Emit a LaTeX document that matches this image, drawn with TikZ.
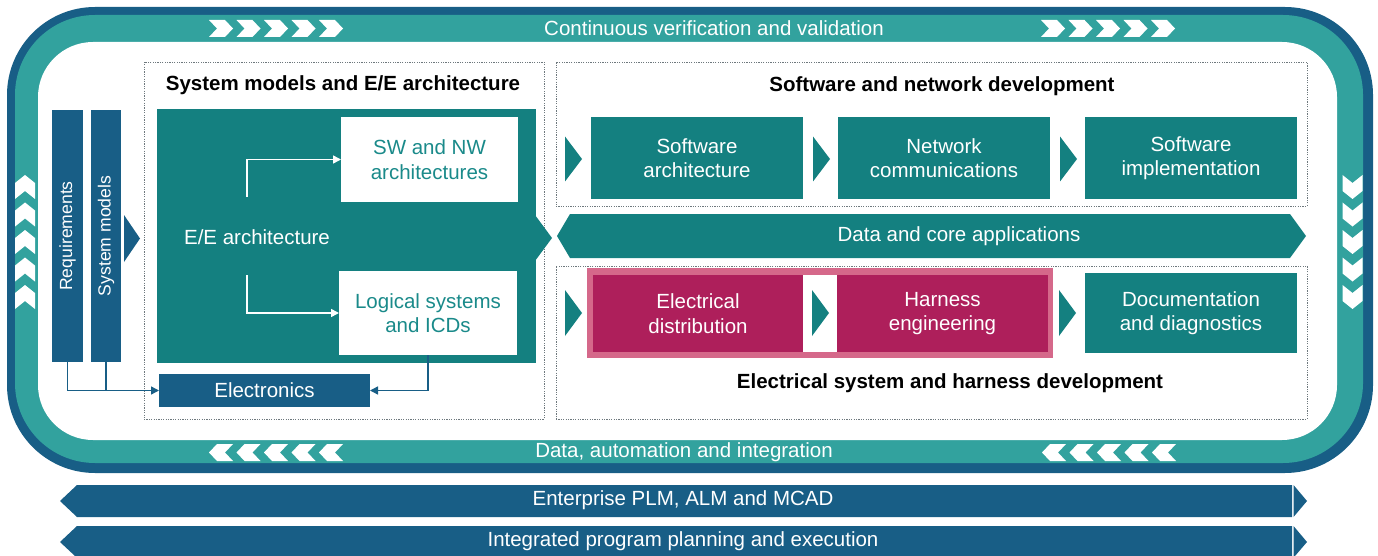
\documentclass[tikz,border=0pt]{standalone}
\usepackage{graphicx}
\usepackage{fontspec}
\setmainfont{Liberation Sans}
\usetikzlibrary{arrows.meta}
\definecolor{dkblue}{RGB}{24,94,134}
\definecolor{tealbox}{RGB}{20,128,128}
\definecolor{tealframe}{RGB}{50,162,158}
\definecolor{tealtext}{RGB}{26,138,138}
\definecolor{magbox}{RGB}{174,31,91}
\definecolor{pinkframe}{RGB}{213,104,138}
\definecolor{dotgray}{RGB}{110,120,125}
\begin{document}
\begin{tikzpicture}[x=1pt,y=-1pt,
 every node/.style={inner sep=0pt, outer sep=0pt},
 fnt/.style={font=\fontsize{20.5}{24.5}\selectfont},
 tbox/.style={fnt, fill=tealbox, text=white, align=center},
 wbox/.style={fnt, fill=white, text=tealtext, align=center},
 mbox/.style={fnt, fill=magbox, text=white, align=center},
 bbox/.style={fnt, fill=dkblue, text=white, align=center},
 vbar/.style={fill=dkblue, text=white, font=\fontsize{17.6}{20}\selectfont},
 ttl/.style={font=\fontsize{20.5}{24.5}\selectfont\bfseries, text=black},
 grp/.style={draw=dotgray, line width=0.9pt, dash pattern=on 1.2pt off 1.2pt},
 wline/.style={draw=white, line width=1.6pt, -{Triangle[length=8pt,width=8pt]}},
 bline/.style={draw=dkblue, line width=1.4pt, -{Triangle[length=8pt,width=8pt]}},
 wtxt/.style={fnt, text=white},
]
\useasboundingbox (0,0) rectangle (1378,556);
% outer frame
\fill[dkblue, rounded corners=88] (7,7) rectangle (1373,473);
\fill[tealframe, rounded corners=80] (15,15) rectangle (1363,463);
\fill[white, rounded corners=55] (38,42) rectangle (1337,440);
% chevrons in the frame
\foreach \i in {0,...,4} {
  \fill[white] ({209+27.5*\i},20) -- ++(16,0) -- ++(8,8.5) -- ++(-8,8.5) -- ++(-16,0) -- ++(8,-8.5) -- cycle;
  \fill[white] ({1041+27.5*\i},20) -- ++(16,0) -- ++(8,8.5) -- ++(-8,8.5) -- ++(-16,0) -- ++(8,-8.5) -- cycle;
  \fill[white] ({209+27.5*\i},452.5) -- ++(8,-8.5) -- ++(16,0) -- ++(-8,8.5) -- ++(8,8.5) -- ++(-16,0) -- cycle;
  \fill[white] ({1042+27.5*\i},452.5) -- ++(8,-8.5) -- ++(16,0) -- ++(-8,8.5) -- ++(8,8.5) -- ++(-16,0) -- cycle;
  \fill[white] (25,{175+27.5*\i}) -- ++(10,8) -- ++(0,16) -- ++(-10,-8) -- ++(-10,8) -- ++(0,-16) -- cycle;
  \fill[white] (1342.5,{175+27.5*\i}) -- ++(10,8) -- ++(10,-8) -- ++(0,16) -- ++(-10,8) -- ++(-10,-8) -- cycle;
}
\node[wtxt] (cvv) at (714,28) {Continuous verification and validation};
\node[wtxt] (dai) at (684,452) {Data, automation and integration};
% group boxes
\node[grp, minimum width=400, minimum height=357] (g1) at (344,240.5) {};
\node[grp, minimum width=751, minimum height=144] (g2) at (931.5,134) {};
\node[grp, minimum width=751, minimum height=153] (g3) at (931.5,342.5) {};
\node[ttl] (t1) at (343,85) {System models and E/E architecture};
\node[ttl] (t2) at (942,86) {Software and network development};
\node[ttl] (t3) at (950,383) {Electrical system and harness development};
% left bars
\node[vbar, minimum width=31, minimum height=252] (req) at (67.5,236) {\rotatebox{90}{Requirements}};
\node[vbar, minimum width=30, minimum height=252] (sysm) at (106,236) {\rotatebox{90}{System models}};
\fill[dkblue] (124,215) -- (140,238.5) -- (124,262) -- cycle;
% E/E architecture block
\node[fill=tealbox, minimum width=379, minimum height=254] (ee) at (346.5,236) {};
\fill[tealbox] (535,215) -- (552,238) -- (535,261) -- cycle;
\node[wtxt] (eet) at (257,237) {E/E architecture};
\node[wbox, minimum width=177, minimum height=85] (swnw) at (429.5,159.5) {SW and NW\\architectures};
\node[wbox, minimum width=178, minimum height=84] (logi) at (428,313) {Logical systems\\and ICDs};
\coordinate (eeup) at (247,197);
\coordinate (eedn) at (247,275);
\draw[wline] (eeup) |- (swnw.west);
\draw[wline] (eedn) |- (logi.west);
\node[bbox, minimum width=211, minimum height=33] (elec) at (264.5,390.5) {Electronics};
\draw[bline] (req.south) |- (elec.west);
\draw[draw=dkblue, line width=1.4pt] (sysm.south) -- (sysm.south |- elec.west);
\draw[bline] (logi.south) |- (elec.east);
% software row
\foreach \x in {565,813,1060} \fill[tealbox] (\x,136.5) -- ++(17,22.5) -- ++(-17,22.5) -- cycle;
\node[tbox, minimum width=212, minimum height=82] (sa) at (697,158) {Software\\architecture};
\node[tbox, minimum width=212, minimum height=82] (nc) at (944,158) {Network\\communications};
\node[tbox, minimum width=212, minimum height=82] (si) at (1191,158) {Software\\implementation};
% data bar
\fill[tealbox] (557,236) -- (570,214) -- (1290,214) -- (1306,236) -- (1290,258) -- (570,258) -- cycle;
\node[wtxt] (dca) at (959,236) {Data and core applications};
% electrical row
\fill[pinkframe] (587,268) rectangle (1053,358);
\fill[white] (803,275) rectangle (837,352);
\node[mbox, minimum width=210, minimum height=77] (ed) at (698,313.5) {Electrical\\distribution};
\node[mbox, minimum width=211, minimum height=77] (he) at (942.5,313.5) {Harness\\engineering};
\node[tbox, minimum width=212, minimum height=80] (dd) at (1191,313) {Documentation\\and diagnostics};
\foreach \x in {565,812,1059} \fill[tealbox] (\x,290) -- ++(17,23) -- ++(-17,23) -- cycle;
% bottom bars
\fill[dkblue] (60,501) -- (77,485) -- (1292,485) -- (1292,517) -- (77,517) -- cycle;
\fill[dkblue] (1293.5,485) -- (1307,501) -- (1293.5,517) -- cycle;
\node[wtxt] (plm) at (683,500) {Enterprise PLM, ALM and MCAD};
\fill[dkblue] (60,542) -- (77,526) -- (1292,526) -- (1292,556) -- (75,556) -- cycle;
\fill[dkblue] (1293.5,526) -- (1307,542) -- (1295,556) -- (1293.5,556) -- cycle;
\node[wtxt] (ipp) at (683,541) {Integrated program planning and execution};
\end{tikzpicture}
\end{document}
